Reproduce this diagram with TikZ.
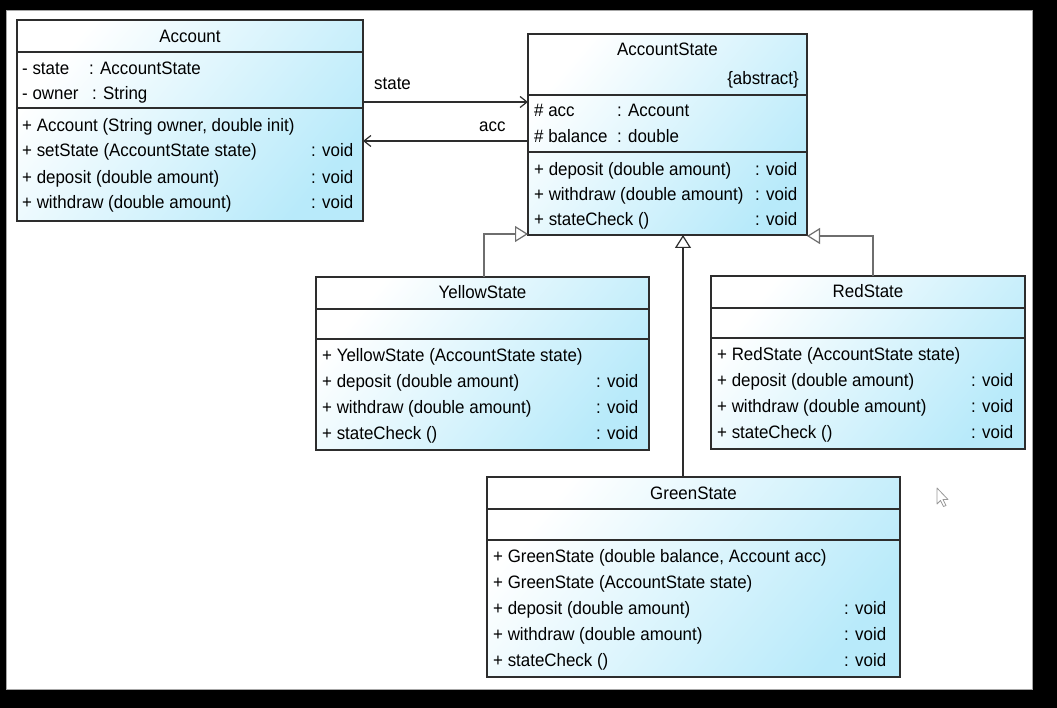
\documentclass[tikz,border=0pt]{standalone}
\usepackage{fontspec}
\setmainfont{Liberation Sans}[FakeStretch=0.94]
\usetikzlibrary{arrows.meta}

\definecolor{boxcyan}{RGB}{184,234,250}
\definecolor{inkline}{RGB}{45,45,45}
\definecolor{genline}{RGB}{110,110,110}

\newcommand{\umlfont}{\fontsize{18}{21}\selectfont}

\begin{document}
\begin{tikzpicture}[x=1pt, y=-1pt,
  classbox/.style={draw=inkline, line width=1.5pt, anchor=north west,
    inner sep=0pt, outer sep=0pt,
    left color=white, right color=boxcyan, shading angle=50},
  sepline/.style={draw=inkline, line width=1.8pt},
  row/.style={anchor=base west, inner sep=0pt, font=\umlfont, text=black},
  ttl/.style={anchor=base, inner sep=0pt, font=\umlfont, text=black},
  assoc/.style={draw=inkline, line width=1.4pt,
    -{Straight Barb[length=7pt, width=11pt, line width=1.2pt]}},
  gen/.style={line width=1.4pt,
    -{Triangle[length=13pt, width=16pt, fill=white, line width=1.2pt]}}
]
\useasboundingbox (0,0) rectangle (1057,708);

% screen frame
\fill[black] (0,0) rectangle (1057,708);
\filldraw[fill=white, draw=gray!70, line width=0.8pt] (6,10) rectangle (1032,689);

% ---------- Account ----------
\node[classbox, minimum width=346pt, minimum height=201pt] (account) at (17,20) {};
\draw[sepline] (account.west |- 0,52) -- (account.east |- 0,52);
\draw[sepline] (account.west |- 0,108) -- (account.east |- 0,108);
\node[ttl] (accT) at (190,43) {Account};
\node[row] (acc1) at (22,75) {- state};
\node[row] (acc1t) at (89,75) {: AccountState};
\node[row] (acc2) at (22,100) {- owner};
\node[row] (acc2t) at (92,100) {: String};
\node[row] (acc3) at (22,132) {+ Account (String owner, double init)};
\node[row] (acc4) at (22,157) {+ setState (AccountState state)};
\node[row] (acc4t) at (311,157) {: void};
\node[row] (acc5) at (22,184) {+ deposit (double amount)};
\node[row] (acc5t) at (311,184) {: void};
\node[row] (acc6) at (22,209) {+ withdraw (double amount)};
\node[row] (acc6t) at (311,209) {: void};

% ---------- AccountState ----------
\node[classbox, minimum width=279pt, minimum height=201pt] (accstate) at (528,34) {};
\draw[sepline] (accstate.west |- 0,95) -- (accstate.east |- 0,95);
\draw[sepline] (accstate.west |- 0,152) -- (accstate.east |- 0,152);
\node[ttl] (asT) at (667.5,56) {AccountState};
\node[anchor=base east, inner sep=0pt, font=\umlfont, text=black] (asAbs) at (799,85) {\{abstract\}};
\node[row] (as1) at (534,117) {\# acc};
\node[row] (as1t) at (617,117) {: Account};
\node[row] (as2) at (534,143) {\# balance};
\node[row] (as2t) at (617,143) {: double};
\node[row] (as3) at (534,176) {+ deposit (double amount)};
\node[row] (as3t) at (755,176) {: void};
\node[row] (as4) at (534,201) {+ withdraw (double amount)};
\node[row] (as4t) at (755,201) {: void};
\node[row] (as5) at (534,226) {+ stateCheck ()};
\node[row] (as5t) at (755,226) {: void};

% ---------- YellowState ----------
\node[classbox, minimum width=333pt, minimum height=173pt] (yellow) at (316,277) {};
\draw[sepline] (yellow.west |- 0,309) -- (yellow.east |- 0,309);
\draw[sepline] (yellow.west |- 0,339) -- (yellow.east |- 0,339);
\node[ttl] (ysT) at (482.5,299) {YellowState};
\node[row] (ys1) at (322,361) {+ YellowState (AccountState state)};
\node[row] (ys2) at (322,387) {+ deposit (double amount)};
\node[row] (ys2t) at (596,387) {: void};
\node[row] (ys3) at (322,413) {+ withdraw (double amount)};
\node[row] (ys3t) at (596,413) {: void};
\node[row] (ys4) at (322,439) {+ stateCheck ()};
\node[row] (ys4t) at (596,439) {: void};

% ---------- RedState ----------
\node[classbox, minimum width=314pt, minimum height=173pt] (red) at (711,276) {};
\draw[sepline] (red.west |- 0,308) -- (red.east |- 0,308);
\draw[sepline] (red.west |- 0,338) -- (red.east |- 0,338);
\node[ttl] (rsT) at (868,298) {RedState};
\node[row] (rs1) at (717,360) {+ RedState (AccountState state)};
\node[row] (rs2) at (717,386) {+ deposit (double amount)};
\node[row] (rs2t) at (971,386) {: void};
\node[row] (rs3) at (717,412) {+ withdraw (double amount)};
\node[row] (rs3t) at (971,412) {: void};
\node[row] (rs4) at (717,438) {+ stateCheck ()};
\node[row] (rs4t) at (971,438) {: void};

% ---------- GreenState ----------
\node[classbox, minimum width=413pt, minimum height=200pt] (green) at (487,477) {};
\draw[sepline] (green.west |- 0,509) -- (green.east |- 0,509);
\draw[sepline] (green.west |- 0,540) -- (green.east |- 0,540);
\node[ttl] (gsT) at (693.5,499) {GreenState};
\node[row] (gs1) at (493,562) {+ GreenState (double balance, Account acc)};
\node[row] (gs2) at (493,588) {+ GreenState (AccountState state)};
\node[row] (gs3) at (493,614) {+ deposit (double amount)};
\node[row] (gs3t) at (844,614) {: void};
\node[row] (gs4) at (493,640) {+ withdraw (double amount)};
\node[row] (gs4t) at (844,640) {: void};
\node[row] (gs5) at (493,666) {+ stateCheck ()};
\node[row] (gs5t) at (844,666) {: void};

% ---------- associations ----------
\draw[assoc] (account.east |- 0,102) -- (accstate.west |- 0,102);
\draw[assoc] (accstate.west |- 0,141) -- (account.east |- 0,141);
\node[row] (lblState) at (374,90) {state};
\node[row] (lblAcc) at (479,132) {acc};

% ---------- generalizations ----------
\draw[gen, draw=genline] (yellow.north -| 484,0) |- (accstate.west |- 0,234);
\draw[gen, draw=genline] (red.north -| 873,0) |- (accstate.east |- 0,236);
\draw[gen, draw=inkline] (green.north -| 683,0) -- (accstate.south -| 683,0);

% ---------- mouse pointer ----------
\filldraw[fill=white, draw=gray!80, line width=0.8pt, line join=round]
  (937,488) -- (937,504) -- (940.5,500.5) -- (943.5,506.5) -- (946,505.5)
  -- (943,499.5) -- (948,499.5) -- cycle;

\end{tikzpicture}
\end{document}
